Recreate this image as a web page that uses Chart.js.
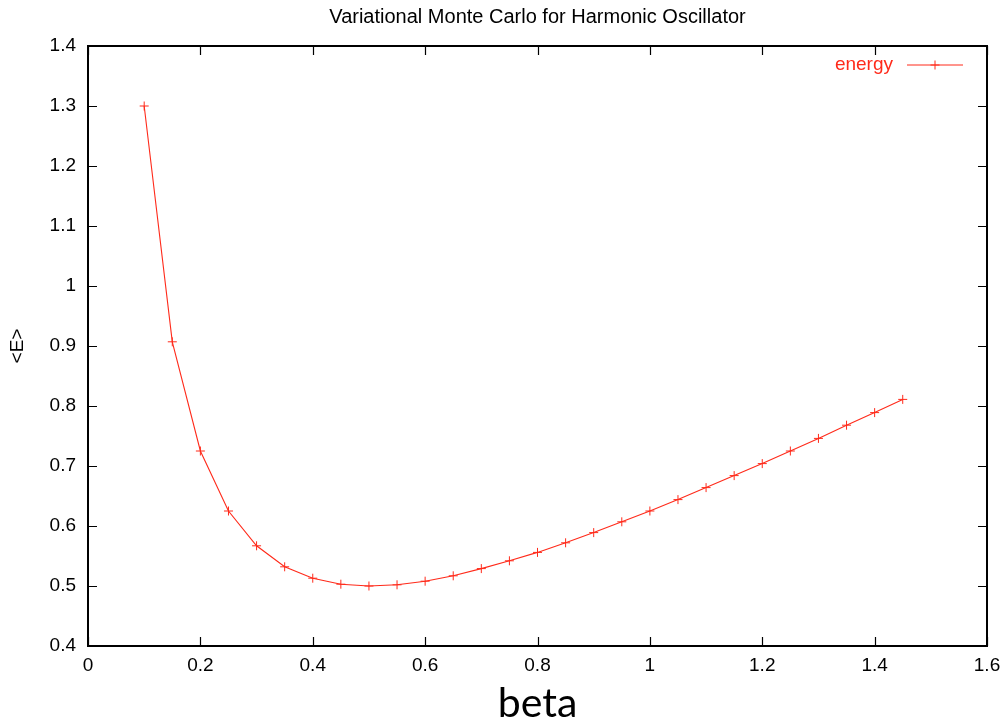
<!DOCTYPE html>
<html>
<head>
<meta charset="utf-8">
<script src="https://cdn.jsdelivr.net/npm/chart.js@4"></script>
<style>
  html, body { margin: 0; padding: 0; background: #fff; }
  #wrap { width: 1001px; height: 728px; }
</style>
</head>
<body>
<div id="wrap"><canvas id="chart" width="1001" height="728"></canvas></div>
<script>
// beta 값과 <E> 값
const betaValues = [0.1, 0.15, 0.2, 0.25, 0.3, 0.35, 0.4, 0.45, 0.5, 0.55, 0.6, 0.65, 0.7, 0.75,
  0.8, 0.85, 0.9, 0.95, 1.0, 1.05, 1.1, 1.15, 1.2, 1.25, 1.3, 1.35, 1.4, 1.45];
const energyValues = [1.300, 0.907, 0.725, 0.625, 0.567, 0.532, 0.513, 0.503, 0.500, 0.502, 0.508,
  0.517, 0.529, 0.542, 0.556, 0.572, 0.589, 0.607, 0.625, 0.644, 0.664, 0.684, 0.704, 0.725,
  0.746, 0.768, 0.789, 0.811];
const seriesName = 'energy';
const chartTitle = 'Variational Monte Carlo for Harmonic Oscillator';
const xLabel = 'beta';
const yLabel = '<E>';

const RED = '#ff2a1a';
const SANS = 'Liberation Sans, Arial, sans-serif';
const tickFont = { family: SANS, size: 19 };

// gnuplot 스타일 테두리 + 안쪽 눈금 + 범례
const framePlugin = {
  id: 'frame',
  afterDraw(chart) {
    const { ctx, chartArea: a, scales } = chart;
    ctx.save();
    ctx.strokeStyle = '#000';
    ctx.lineWidth = 2;
    ctx.strokeRect(a.left, a.top, a.right - a.left, a.bottom - a.top);
    ctx.lineWidth = 1.2;
    const len = 9;
    scales.x.ticks.forEach(t => {
      const px = Math.round(scales.x.getPixelForValue(t.value)) + 0.5;
      ctx.beginPath();
      ctx.moveTo(px, a.bottom); ctx.lineTo(px, a.bottom - len);
      ctx.moveTo(px, a.top); ctx.lineTo(px, a.top + len);
      ctx.stroke();
    });
    scales.y.ticks.forEach(t => {
      const py = Math.round(scales.y.getPixelForValue(t.value)) + 0.5;
      ctx.beginPath();
      ctx.moveTo(a.left, py); ctx.lineTo(a.left + len, py);
      ctx.moveTo(a.right, py); ctx.lineTo(a.right - len, py);
      ctx.stroke();
    });
    // 범례
    const ly = a.top + 19;
    ctx.font = '19px ' + SANS;
    ctx.fillStyle = RED;
    ctx.textAlign = 'right';
    ctx.textBaseline = 'middle';
    ctx.fillText(seriesName, a.right - 94, ly);
    ctx.strokeStyle = RED;
    ctx.lineWidth = 1;
    ctx.beginPath();
    ctx.moveTo(a.right - 80, ly); ctx.lineTo(a.right - 24, ly);
    ctx.moveTo(a.right - 52, ly - 4.5); ctx.lineTo(a.right - 52, ly + 4.5);
    ctx.moveTo(a.right - 56.5, ly); ctx.lineTo(a.right - 47.5, ly);
    ctx.stroke();
    ctx.restore();
  }
};

new Chart(document.getElementById('chart').getContext('2d'), {
  type: 'scatter',
  data: {
    datasets: [{
      label: seriesName,
      data: betaValues.map((b, i) => ({ x: b, y: energyValues[i] })),
      showLine: true,
      borderColor: RED,
      backgroundColor: RED,
      borderWidth: 1.1,
      pointStyle: 'cross',
      pointRadius: 4.5,
      pointBorderWidth: 1,
      pointBorderColor: RED,
      tension: 0,
    }],
  },
  options: {
    responsive: false,
    animation: false,
    layout: { padding: { left: 6, right: 14, top: 0, bottom: 0 } },
    plugins: {
      legend: { display: false },
      tooltip: { enabled: false },
      title: {
        display: true,
        fullSize: false,
        text: chartTitle,
        color: '#000',
        font: { family: SANS, size: 20, weight: 'normal' },
        padding: { top: 5, bottom: 17 },
      },
    },
    scales: {
      x: {
        type: 'linear',
        min: 0, max: 1.6,
        grid: { display: false, drawTicks: false },
        border: { display: false },
        ticks: {
          stepSize: 0.2, color: '#000', font: tickFont, padding: 8,
          callback: v => +v.toFixed(1),
        },
        title: {
          display: true, text: xLabel, color: '#000',
          font: { family: 'Lato, Open Sans, sans-serif', size: 41 },
          padding: { top: 0, bottom: 0 },
        },
        afterFit(s) { s.height = 82; s.paddingRight = 0; s.paddingLeft = 0; },
      },
      y: {
        type: 'linear',
        min: 0.4, max: 1.4,
        grid: { display: false, drawTicks: false },
        border: { display: false },
        ticks: {
          stepSize: 0.1, color: '#000', font: tickFont, padding: 12,
          callback: v => +v.toFixed(1),
        },
        title: {
          display: true, text: yLabel, color: '#000',
          font: { family: SANS, size: 19 },
          padding: { top: 0, bottom: 0 },
        },
        afterFit(s) { s.width = 82; s.paddingTop = 0; s.paddingBottom = 0; },
      },
    },
  },
  plugins: [framePlugin],
});
</script>
</body>
</html>
